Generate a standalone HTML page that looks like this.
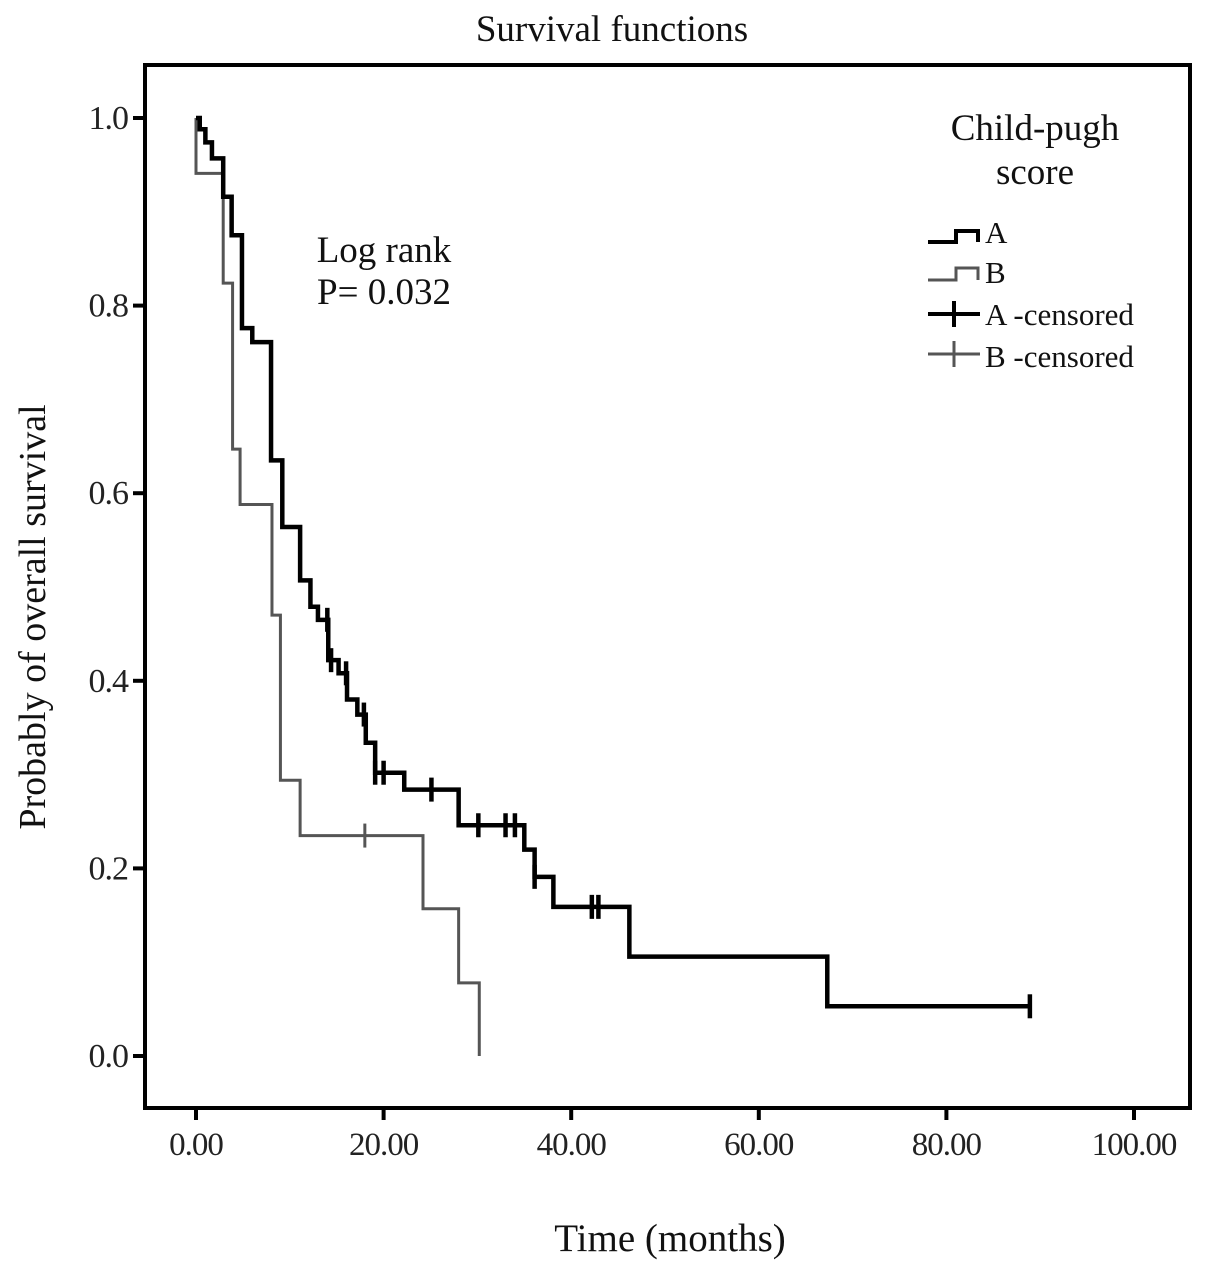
<!DOCTYPE html>
<html><head><meta charset="utf-8"><style>
html,body{margin:0;padding:0;background:#fff;}
svg{display:block;font-family:"Liberation Serif",serif;}
</style></head><body>
<svg id="chart" width="1205" height="1270" viewBox="0 0 1205 1270">
<text x="612" y="41" font-size="37" text-anchor="middle" fill="#111">Survival functions</text>
<rect x="145" y="65" width="1045" height="1043" fill="none" stroke="#000" stroke-width="4"/>
<g id="axes"></g>
<g id="series"></g>
<text x="670" y="1251" font-size="39" text-anchor="middle" fill="#111">Time (months)</text>
<text transform="translate(45,617) rotate(-90)" font-size="38" text-anchor="middle" fill="#111">Probably of overall survival</text>
<text x="384" y="262" font-size="37" text-anchor="middle" fill="#111">Log rank</text>
<text x="384" y="304" font-size="37" text-anchor="middle" fill="#111">P= 0.032</text>
<g>
<text x="1035" y="140" font-size="37" text-anchor="middle" fill="#111">Child-pugh</text>
<text x="1035" y="184" font-size="37" text-anchor="middle" fill="#111">score</text>
<path d="M928 242 H956 V231 H978 V242" fill="none" stroke="#000" stroke-width="4"/>
<text x="985" y="243" font-size="31" fill="#111">A</text>
<path d="M928 280 H956 V268 H978 V280" fill="none" stroke="#555" stroke-width="3"/>
<text x="985" y="283" font-size="31" fill="#111">B</text>
<path d="M928 314 H980 M954 301 V327" stroke="#000" stroke-width="4"/>
<text x="985" y="325" font-size="31" fill="#111">A -censored</text>
<path d="M928 354 H980 M954 341 V367" stroke="#555" stroke-width="3"/>
<text x="985" y="367" font-size="31" fill="#111">B -censored</text>
</g>
</svg>
<script>
const xTicks=[0,20,40,60,80,100];
const xTickLabels=["0.00","20.00","40.00","60.00","80.00","100.00"];
const yTicks=[0,0.2,0.4,0.6,0.8,1.0];
const yTickLabels=["0.0","0.2","0.4","0.6","0.8","1.0"];
const aTimes=[0.4,1.0,1.7,2.9,3.8,4.9,6.0,8.0,9.2,11.1,12.2,13.0,14.1,15.2,16.1,17.2,18.1,19.1,22.2,28.0,35.0,36.1,38.1,46.2,67.3];
const aSurv=[0.988,0.974,0.957,0.916,0.875,0.776,0.761,0.635,0.564,0.507,0.479,0.465,0.422,0.408,0.380,0.364,0.334,0.302,0.284,0.246,0.220,0.191,0.159,0.106,0.053];
const aEnd=88.9;
const aCensor=[14.0,14.4,16.0,17.9,19.1,20.0,25.1,30.1,33.0,34.0,36.1,42.2,42.9,88.9];
const bTimes=[0.0,2.9,3.9,4.7,8.1,9.0,11.1,24.2,28.0,30.2];
const bSurv=[0.941,0.824,0.647,0.588,0.470,0.294,0.235,0.157,0.078,0.0];
const bEnd=30.2;
const bCensor=[18.0];
const X=t=>196+9.38*t, Y=s=>1056-938*s;
const NS="http://www.w3.org/2000/svg";
function mk(tag,attrs,parent){const e=document.createElementNS(NS,tag);for(const k in attrs)e.setAttribute(k,attrs[k]);parent.appendChild(e);return e;}
const axes=document.getElementById('axes'), ser=document.getElementById('series');
xTicks.forEach((v,i)=>{
  const t=mk('line',{x1:X(v),x2:X(v),y1:1108,y2:1120,stroke:'#000','stroke-width':4},axes);
  
  
  const l=mk('text',{x:X(v),y:1155,'font-size':33,'text-anchor':'middle',fill:'#222','letter-spacing':'-1'},axes);
  l.textContent=xTickLabels[i];
  
  
});
yTicks.forEach((v,i)=>{
  const t=mk('line',{x1:133,x2:145,y1:Y(v),y2:Y(v),stroke:'#000','stroke-width':4},axes);
  
  
  const l=mk('text',{x:128,y:Y(v)+11,'font-size':34,'text-anchor':'end',fill:'#222','letter-spacing':'-1'},axes);
  l.textContent=yTickLabels[i];
  
  
});
function survAt(times,surv,t){let s=1;for(let i=0;i<times.length;i++){if(times[i]<=t)s=surv[i];}return s;}
function drawCurve(times,surv,end,censor,color,w,name){
  let d=`M${X(0)} ${Y(1)}`;
  for(let i=0;i<times.length;i++){d+=` H${X(times[i])} V${Y(surv[i])}`;}
  d+=` H${X(end)}`;
  const p=mk('path',{d:d,fill:'none',stroke:color,'stroke-width':w,'stroke-linejoin':'miter'},ser);
  
  
  censor.forEach(c=>{
    const y=Y(survAt(times,surv,c));
    const m=mk('path',{d:`M${X(c)} ${y-12} V${y+12}`,stroke:color,'stroke-width':w},ser);
    
    
  });
}
drawCurve(bTimes,bSurv,bEnd,bCensor,'#555',3,'group-b');
drawCurve(aTimes,aSurv,aEnd,aCensor,'#000',4.5,'group-a');
</script>
</body></html>
